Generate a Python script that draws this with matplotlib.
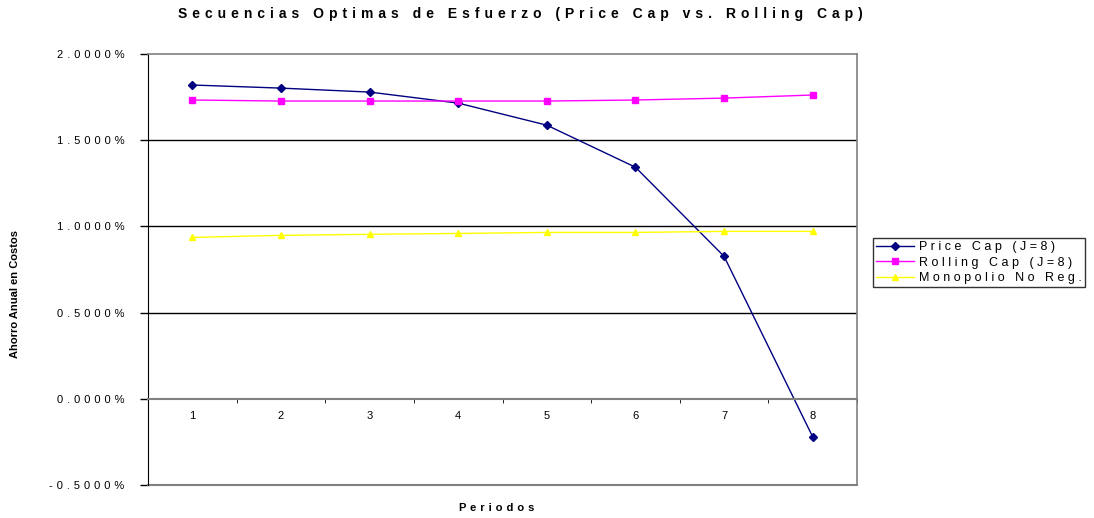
import matplotlib
matplotlib.use('Agg')
import matplotlib.pyplot as plt

plt.rcParams['font.family'] = ['Liberation Sans', 'DejaVu Sans']

# datos: ahorro anual en costos (%) por periodo
periodos = [1, 2, 3, 4, 5, 6, 7, 8]
price_cap = [1.820, 1.802, 1.779, 1.715, 1.587, 1.343, 0.826, -0.221]
rolling_cap = [1.733, 1.727, 1.727, 1.727, 1.727, 1.733, 1.744, 1.762]
monopolio = [0.936, 0.948, 0.954, 0.959, 0.965, 0.965, 0.971, 0.971]
yticks = [-0.5, 0.0, 0.5, 1.0, 1.5, 2.0]


# texto espaciado al estilo excel
def sp(s, sep=' \u200a'):
    return sep.join(s)


fig = plt.figure(figsize=(10.94, 5.18), dpi=100)
ax = fig.add_axes([0.1353, 0.0637, 0.6481, 0.8321])

ax.plot(periodos, price_cap, color='#000080', lw=1, marker='D', ms=3.6,
        label=sp('Price Cap (J=8)', ' '))
ax.plot(periodos, rolling_cap, color='#FF00FF', lw=1, marker='s', ms=4.5,
        label=sp('Rolling Cap (J=8)', ' '))
ax.plot(periodos, monopolio, color='#FFFF00', lw=1, marker='^', ms=4.5,
        label=sp('Monopolio No Reg.', ' '))

ax.set_xlim(0.5, 8.5)
ax.set_ylim(-0.5, 2.0)

# lineas de grilla horizontales
for y in [0.5, 1.0, 1.5]:
    ax.axhline(y, color='black', lw=1, zorder=0)

ax.set_yticks(yticks)
ax.set_yticklabels([sp('%.4f%%' % v) for v in yticks], fontsize=8)
ax.tick_params(axis='y', length=6, width=1, pad=11)

# eje x cruzando en cero
ax.spines['bottom'].set_position(('data', 0))
ax.spines['bottom'].set_color('#808080')
ax.spines['bottom'].set_linewidth(1.5)
ax.set_xticks(periodos)
ax.set_xticklabels([str(p) for p in periodos], fontsize=8)
ax.set_xticks([p - 0.5 for p in periodos] + [8.5], minor=True)
ax.tick_params(axis='x', which='major', length=0, pad=9)
ax.tick_params(axis='x', which='minor', length=3, color='black', direction='out')

for s in ['top', 'right']:
    ax.spines[s].set_color('#808080')
    ax.spines[s].set_linewidth(1.2)
# borde inferior del area de trazado
ax.axhline(-0.5, color='#808080', lw=1.5, clip_on=False)
ax.spines['left'].set_color('black')

fig.text(0.476, 0.973, sp('Secuencias Optimas de Esfuerzo (Price Cap vs. Rolling Cap)'),
         ha='center', va='center', fontsize=10, fontweight='bold')
fig.text(0.0137, 0.4324, 'Ahorro Anual en Costos', rotation=90, ha='center',
         va='center', fontsize=8, fontweight='bold')
fig.text(0.454, 0.019, sp('Periodos'), ha='center', va='center',
         fontsize=8, fontweight='bold')

leg = fig.legend(loc='center left', bbox_to_anchor=(0.798, 0.493), fontsize=9,
                 frameon=True, fancybox=False, edgecolor='black',
                 borderpad=0.25, handlelength=3.0, handletextpad=0.4,
                 labelspacing=0.28, borderaxespad=0)
leg.get_frame().set_linewidth(1)

fig.savefig('out.png', dpi=100)
